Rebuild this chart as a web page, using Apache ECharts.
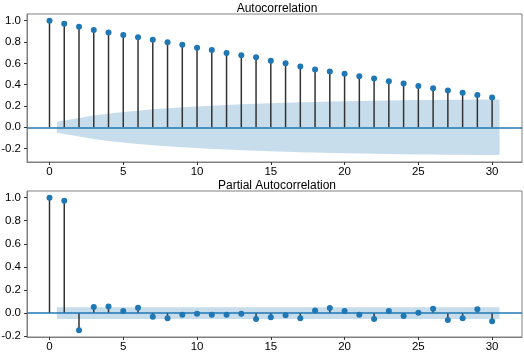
<!DOCTYPE html>
<html>
<head>
<meta charset="utf-8">
<script src="https://cdn.jsdelivr.net/npm/echarts@6/dist/echarts.min.js"></script>
<style>
html,body{margin:0;padding:0;background:#fff}
#chart{width:524px;height:355px}
</style>
</head>
<body>
<div id="chart"></div>
<script>
// lags 0..30
var lags = [0,1,2,3,4,5,6,7,8,9,10,11,12,13,14,15,16,17,18,19,20,21,22,23,24,25,26,27,28,29,30];

var acfValues = [1.0,0.971,0.943,0.914,0.889,0.867,0.844,0.822,0.797,0.775,0.746,
  0.724,0.698,0.676,0.657,0.625,0.600,0.571,0.543,0.524,0.502,
  0.479,0.457,0.432,0.410,0.387,0.365,0.346,0.324,0.302,0.279];

// confidence band half-width, lags 1..30
var acfBand = [0.051,0.087,0.110,0.128,0.144,0.156,0.168,0.178,0.187,0.195,
  0.203,0.209,0.215,0.220,0.225,0.230,0.234,0.238,0.241,0.244,
  0.247,0.249,0.251,0.253,0.255,0.256,0.258,0.259,0.260,0.261];

var pacfValues = [1.0,0.974,-0.149,0.052,0.057,0.017,0.046,-0.032,-0.046,-0.014,-0.006,
  -0.014,-0.014,-0.006,-0.052,-0.037,-0.020,-0.046,0.023,0.043,0.017,
  -0.014,-0.052,0.017,-0.026,0.003,0.037,-0.060,-0.046,0.034,-0.072];

var pacfBand = [0.051,0.051,0.051,0.051,0.051,0.051,0.051,0.051,0.051,0.051,
  0.051,0.051,0.051,0.051,0.051,0.051,0.051,0.051,0.051,0.051,
  0.051,0.051,0.051,0.051,0.051,0.051,0.051,0.051,0.051,0.051];

var xTicks = [0,5,10,15,20,25,30];
var yTicks = [-0.2,0,0.2,0.4,0.6,0.8,1.0];

var blue = '#1f77b4';
var font = 'Liberation Sans, Arial, sans-serif';

// band is drawn from lag 1 to lag 30, widened by half a lag at each end
function bandX(){
	var xs = lags.slice(1);
	xs[0] -= 0.5;
	xs[xs.length-1] += 0.5;
	return xs;
}

function pairs(xs, ys, sign){
	var out = [];
	for(var i=0;i<xs.length;i++){
		out.push([xs[i], sign*ys[i]]);
	}
	return out;
}

function xAxisOf(idx){
	return {
		type:'value', gridIndex:idx, min:-1.525, max:32.025,
		axisLine:{show:true, onZero:false, lineStyle:{color:'#808080', width:1}},
		axisTick:{show:true, length:3, customValues:xTicks, lineStyle:{color:'#333'}},
		axisLabel:{customValues:xTicks, margin:4, color:'#000', fontSize:11.5, fontFamily:font},
		splitLine:{show:false}
	};
}

function yAxisOf(idx, min, max){
	return {
		type:'value', gridIndex:idx, min:min, max:max,
		axisLine:{show:true, onZero:false, lineStyle:{color:'#808080', width:1}},
		axisTick:{show:true, length:3, customValues:yTicks, lineStyle:{color:'#333'}},
		axisLabel:{customValues:yTicks, margin:6, color:'#000', fontSize:11.5, fontFamily:font,
			formatter:function(v){ return v.toFixed(1); }},
		splitLine:{show:false}
	};
}

function bandSeries(idx, band, sign, withZero){
	var s = {
		type:'line', xAxisIndex:idx, yAxisIndex:idx,
		data:pairs(bandX(), band, sign),
		symbol:'none', silent:true, z:1,
		lineStyle:{width:0},
		areaStyle:{color:'rgba(31,119,180,0.25)', origin:0, opacity:1}
	};
	if(withZero){
		s.markLine = {
			silent:true, symbol:'none', label:{show:false},
			lineStyle:{color:blue, width:1.5, type:'solid'},
			data:[{yAxis:0}]
		};
	}
	return s;
}

function stemSeries(idx, vals){
	return {
		type:'custom', xAxisIndex:idx, yAxisIndex:idx, z:3,
		encode:{x:0, y:1},
		data:pairs(lags, vals, 1),
		renderItem:function(params, api){
			var p0 = api.coord([api.value(0), 0]);
			var p1 = api.coord([api.value(0), api.value(1)]);
			return {type:'line', shape:{x1:p0[0], y1:p0[1], x2:p1[0], y2:p1[1]},
				style:{stroke:'#333', lineWidth:1.5}};
		}
	};
}

function dotSeries(idx, vals){
	return {
		type:'scatter', xAxisIndex:idx, yAxisIndex:idx, z:4,
		data:pairs(lags, vals, 1),
		symbolSize:6, itemStyle:{color:blue, opacity:1}
	};
}

var myChart = echarts.init(document.getElementById('chart'), null, {renderer:'canvas'});
var option = {
	animation:false,
	backgroundColor:'#fff',
	title:[
		{text:'Autocorrelation', left:272, top:-2, textAlign:'center',
			textStyle:{fontSize:12, fontWeight:'normal', color:'#000', fontFamily:font}},
		{text:'Partial Autocorrelation', left:272, top:175, textAlign:'center',
			textStyle:{fontSize:12, fontWeight:'normal', color:'#000', fontFamily:font}}
	],
	grid:[
		{left:27, top:14, right:2, bottom:193, show:true, borderColor:'#808080', borderWidth:1, outerBoundsMode:'none'},
		{left:27, top:191, right:2, bottom:18, show:true, borderColor:'#808080', borderWidth:1, outerBoundsMode:'none'}
	],
	xAxis:[xAxisOf(0), xAxisOf(1)],
	yAxis:[yAxisOf(0, -0.326, 1.063), yAxisOf(1, -0.2075, 1.0575)],
	series:[
		bandSeries(0, acfBand, 1, true),
		bandSeries(0, acfBand, -1, false),
		stemSeries(0, acfValues),
		dotSeries(0, acfValues),
		bandSeries(1, pacfBand, 1, true),
		bandSeries(1, pacfBand, -1, false),
		stemSeries(1, pacfValues),
		dotSeries(1, pacfValues)
	]
};
myChart.setOption(option);
</script>
</body>
</html>
